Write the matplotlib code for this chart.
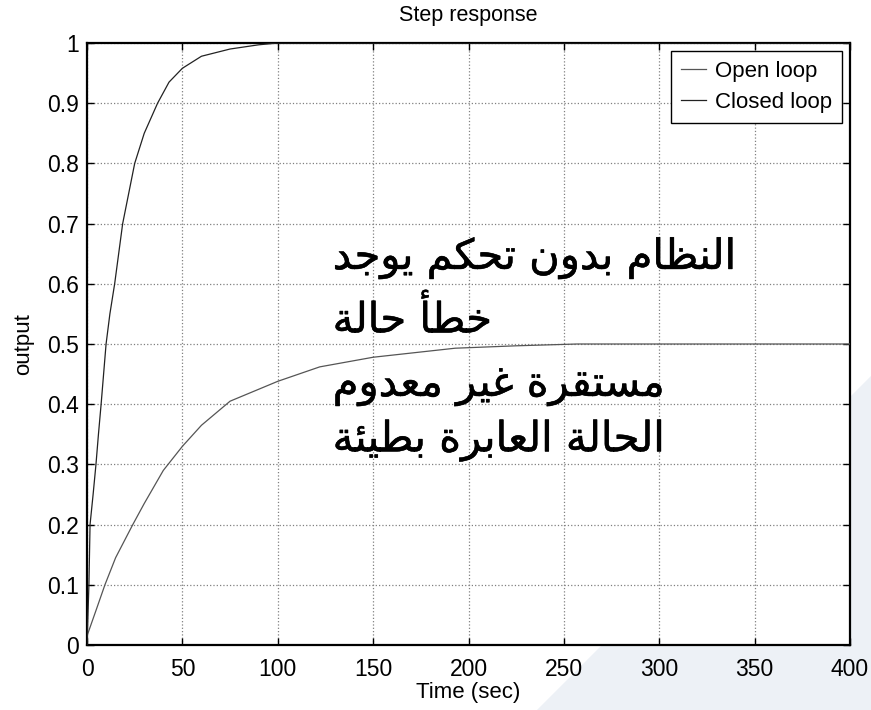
import matplotlib
matplotlib.use("Agg")
import matplotlib.pyplot as plt
import matplotlib.patheffects as pe
from matplotlib.patches import Polygon

# values
open_t = [0, 5, 9.4, 15, 24, 30, 40, 50, 60, 75, 100, 122, 150, 193, 225, 257, 400]
open_y = [0.015, 0.06, 0.1, 0.145, 0.2, 0.235, 0.29, 0.33, 0.365, 0.405, 0.438,
          0.462, 0.478, 0.493, 0.497, 0.5, 0.5]

closed_t = [0, 1.0, 1.6, 3.2, 4.7, 6.0, 7.4, 10, 12, 14.5, 18.7, 25, 30, 37, 43,
            50, 60, 75, 90, 100, 400]
closed_y = [0, 0.1, 0.2, 0.25, 0.3, 0.35, 0.4, 0.5, 0.55, 0.6, 0.7, 0.8, 0.85,
            0.9, 0.935, 0.958, 0.978, 0.99, 0.997, 1.0, 1.0]

legend_labels = ["Open loop", "Closed loop"]
x_ticks = [0, 50, 100, 150, 200, 250, 300, 350, 400]
y_ticks = [0, 0.1, 0.2, 0.3, 0.4, 0.5, 0.6, 0.7, 0.8, 0.9, 1]
y_tick_labels = ["0", "0.1", "0.2", "0.3", "0.4", "0.5", "0.6", "0.7", "0.8", "0.9", "1"]

note_lines = ["النظام بدون تحكم يوجد",
              "خطأ حالة",
              "مستقرة غير معدوم",
              "الحالة العابرة بطيئة"]

# arabic presentation forms: isolated, final, initial, medial
FORMS = {
    "ا": ("\uFE8D", "\uFE8E", None, None),
    "أ": ("\uFE83", "\uFE84", None, None),
    "ب": ("\uFE8F", "\uFE90", "\uFE91", "\uFE92"),
    "ة": ("\uFE93", "\uFE94", None, None),
    "ت": ("\uFE95", "\uFE96", "\uFE97", "\uFE98"),
    "ج": ("\uFE9D", "\uFE9E", "\uFE9F", "\uFEA0"),
    "ح": ("\uFEA1", "\uFEA2", "\uFEA3", "\uFEA4"),
    "خ": ("\uFEA5", "\uFEA6", "\uFEA7", "\uFEA8"),
    "د": ("\uFEA9", "\uFEAA", None, None),
    "ر": ("\uFEAD", "\uFEAE", None, None),
    "س": ("\uFEB1", "\uFEB2", "\uFEB3", "\uFEB4"),
    "ط": ("\uFEC1", "\uFEC2", "\uFEC3", "\uFEC4"),
    "ظ": ("\uFEC5", "\uFEC6", "\uFEC7", "\uFEC8"),
    "ع": ("\uFEC9", "\uFECA", "\uFECB", "\uFECC"),
    "غ": ("\uFECD", "\uFECE", "\uFECF", "\uFED0"),
    "ق": ("\uFED5", "\uFED6", "\uFED7", "\uFED8"),
    "ك": ("\uFED9", "\uFEDA", "\uFEDB", "\uFEDC"),
    "ل": ("\uFEDD", "\uFEDE", "\uFEDF", "\uFEE0"),
    "م": ("\uFEE1", "\uFEE2", "\uFEE3", "\uFEE4"),
    "ن": ("\uFEE5", "\uFEE6", "\uFEE7", "\uFEE8"),
    "و": ("\uFEED", "\uFEEE", None, None),
    "ي": ("\uFEF1", "\uFEF2", "\uFEF3", "\uFEF4"),
    "ئ": ("\uFE89", "\uFE8A", "\uFE8B", "\uFE8C"),
}


def shape(text):
    # join letters into their contextual forms, then reverse for LTR drawing
    out = []
    for i, c in enumerate(text):
        if c not in FORMS:
            out.append(c)
            continue
        prev = text[i - 1] if i > 0 else None
        nxt = text[i + 1] if i + 1 < len(text) else None
        join_prev = prev in FORMS and FORMS[prev][2] is not None
        join_next = nxt in FORMS and FORMS[c][2] is not None
        iso, fin, ini, med = FORMS[c]
        if join_prev and join_next:
            out.append(med)
        elif join_prev:
            out.append(fin)
        elif join_next:
            out.append(ini)
        else:
            out.append(iso)
    return "".join(reversed(out))


plt.rcParams["font.family"] = ["Liberation Sans", "DejaVu Sans"]

fig = plt.figure(figsize=(8.71, 7.10), dpi=100)
fig.patch.set_facecolor("white")
# light watermark in the lower right corner, behind the axes
fig.patches.append(Polygon([(537 / 871, 0), (1, 0), (1, 1 - 376 / 710)],
                           closed=True, transform=fig.transFigure,
                           facecolor="#edf1f6", edgecolor="none", zorder=-5))

ax = fig.add_axes([87 / 871, 65 / 710, 763 / 871, 602 / 710])
ax.set_zorder(2)
ax.set_facecolor("white")

ax.plot(open_t, open_y, color="#555555", lw=0.9, label=legend_labels[0], zorder=3)
ax.plot(closed_t, closed_y, color="#222222", lw=0.9, label=legend_labels[1], zorder=3)

ax.set_xlim(0, 400)
ax.set_ylim(0, 1)
ax.set_xticks(x_ticks)
ax.set_yticks(y_ticks)
ax.set_yticklabels(y_tick_labels)
ax.tick_params(direction="in", length=5, width=1, top=True, right=True,
               labelsize=16.5, colors="black")
ax.tick_params(axis="x", pad=9)
ax.tick_params(axis="y", pad=6)
ax.grid(True, linestyle=":", color="#808080", linewidth=0.9, zorder=1)
for s in ax.spines.values():
    s.set_linewidth(1.6)
    s.set_color("black")

ax.set_title("Step response", fontsize=15.5, pad=16)
ax.set_xlabel("Time (sec)", fontsize=16, labelpad=1)
ax.set_ylabel("output", fontsize=16, labelpad=9)

leg = ax.legend(loc="upper right", fontsize=16, handlelength=1.15,
                handletextpad=0.4, borderpad=0.45, labelspacing=0.45,
                borderaxespad=0.35, fancybox=False, framealpha=1)
leg.get_frame().set_edgecolor("black")
leg.get_frame().set_linewidth(1.0)

note_y = [0.643, 0.54, 0.432, 0.34]
for line, yy in zip(note_lines, note_y):
    ax.text(0.322, yy, shape(line), transform=ax.transAxes, fontsize=30,
            family=["DejaVu Sans"], ha="left", va="center", color="black", zorder=4,
            path_effects=[pe.withStroke(linewidth=0.4, foreground="black")])

fig.savefig("out.png", dpi=100)
